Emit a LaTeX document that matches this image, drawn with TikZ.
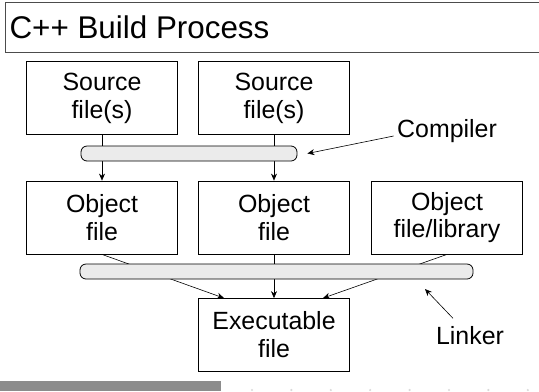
\documentclass[tikz,border=0pt]{standalone}
\usepackage{fontspec}
\setmainfont{Liberation Sans}
\usetikzlibrary{arrows.meta}
\begin{document}
\begin{tikzpicture}[x=1bp, y=-1bp,
    filebox/.style={draw, line width=0.8bp, minimum width=151bp, minimum height=73bp,
      inner sep=0pt, align=center, font=\fontsize{25}{28}\selectfont},
    toolbar/.style={draw, line width=0.8bp, fill=black!8, rounded corners=6bp,
      minimum height=15bp, inner sep=0pt},
    tooltext/.style={font=\fontsize{25}{28}\selectfont},
    flow/.style={line width=0.6bp, -{Stealth[length=7bp,width=6bp]}}]
      \useasboundingbox (0,0) rectangle (539,391);
      % Title bar
      \draw[black!70, line width=1bp] (545,2) -- (5,2) -- (5,52) -- (545,52);
      \node[anchor=base west, font=\fontsize{31.5}{36}\selectfont] (title) at (6,38) {C++ Build Process};
      % Files
      \node[filebox] (src1) at (102,98) {Source\\file(s)};
      \node[filebox] (src2) at (274,98) {Source\\file(s)};
      \node[filebox] (obj1) at (102,217.5) {Object\\file};
      \node[filebox] (obj2) at (274,217.5) {Object\\file};
      \node[filebox] (obj3) at (447,217.5) {Object\\file/library};
      \node[filebox] (exe) at (274,335) {Executable\\file};
      % Flow, drawn under the tool bars
      \draw[flow] (src1) -- (obj1);
      \draw[flow] (src2) -- (obj2);
      \draw[flow] (obj1.south) -- ([xshift=-50bp]exe.north);
      \draw[flow] (obj2) -- (exe);
      \draw[flow] (obj3.south) -- ([xshift=49bp]exe.north);
      \node[toolbar, minimum width=216bp] (cbar) at (189,153.5) {};
      \node[toolbar, minimum width=393bp] (lbar) at (276.5,271.5) {};
      % Tool labels
      \node[tooltext] (compiler) at (447,131) {Compiler};
      \draw[flow] ([yshift=-5bp]compiler.west) -- ([xshift=10bp]cbar.east);
      \node[tooltext] (linker) at (470,336) {Linker};
      \coordinate (ltip) at (425,289);
      \draw[flow] ([xshift=-17bp, yshift=5bp]linker.north) -- (ltip);
      % Footer
      \fill[black!45] (0,381) rectangle (221,391);
      \foreach \i in {0,...,7}
        \fill[black!15] (252+39.4*\i,390) circle (1.2bp);
\end{tikzpicture}
\end{document}
